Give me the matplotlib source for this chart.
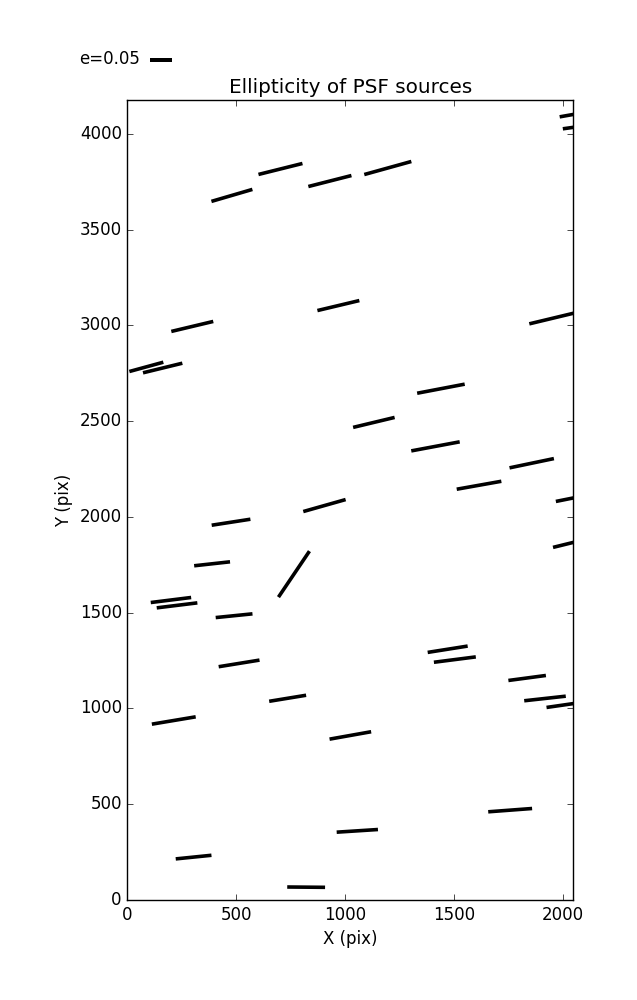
import numpy as np
import matplotlib
matplotlib.use("Agg")
import matplotlib.pyplot as plt

# PSF star positions on the CCD (pix) and their ellipticity sticks
x_pos = [480, 703, 930, 1196, 2075, 2090, 298, 969, 1954, 87, 162,
         1440, 1132, 1415, 1857, 1615, 905, 2067, 476, 2053, 389, 765,
         200, 228, 490, 1471, 1504, 513, 1836, 736, 1918, 2016, 213, 1024,
         1758, 1056, 304, 821]
y_pos = [3678, 3816, 3753, 3821, 4106, 4040, 2994, 3103, 3037, 2783, 2777,
         2669, 2493, 2368, 2280, 2165, 2059, 2103, 1972, 1868, 1755, 1701,
         1566, 1538, 1484, 1309, 1255, 1235, 1159, 1053, 1052, 1020, 937, 859,
         469, 361, 224, 67]
ellip = [0.097, 0.103, 0.101, 0.111, 0.090, 0.090, 0.098, 0.098, 0.110, 0.080,
         0.092, 0.110, 0.097, 0.112, 0.103, 0.103, 0.100, 0.100, 0.089, 0.100,
         0.082, 0.126, 0.0925, 0.093, 0.084, 0.092, 0.096, 0.094, 0.086, 0.085,
         0.095, 0.091, 0.101, 0.096, 0.100, 0.094, 0.0816, 0.086]
theta_deg = [16.3, 14.0, 14.3, 15.5, 10.0, 8.0, 13.4, 13.4, 13.5, 15.3, 13.7,
             10.8, 13.5, 10.6, 11.8, 10.1, 15.8, 11.3, 8.8, 13.8, 6.3, 56.0,
             7.1, 7.0, 5.8, 9.0, 7.3, 9.2, 7.6, 9.3, 6.3, 8.2, 9.5, 10.1,
             4.3, 3.7, 5.8, -0.5]

key_e = 0.05

plt.style.use("classic")
fig = plt.figure(figsize=(6.37, 10), dpi=100, facecolor="white")
ax = fig.add_subplot(111)
fig.subplots_adjust(left=0.2, right=0.9, bottom=0.1, top=0.9)

th = np.deg2rad(theta_deg)
e = np.asarray(ellip)
u = e * np.cos(th)
v = e * np.sin(th)

q = ax.quiver(x_pos, y_pos, u, v, pivot="middle", color="k",
              headwidth=0, headlength=0, headaxislength=0,
              units="inches", width=0.036,
              scale_units="inches", scale=1 / 4.4)
ax.quiverkey(q, 0.2355, 0.9405, key_e, "e=0.05", labelpos="W",
             coordinates="figure", fontproperties={"size": 12})

ax.set_xlim(0, 2048)
ax.set_ylim(0, 4176)
ax.set_xticks(np.arange(0, 2001, 500))
ax.set_yticks(np.arange(0, 4001, 500))
ax.set_xlabel("X (pix)")
ax.set_ylabel("Y (pix)")
ax.set_title("Ellipticity of PSF sources")

fig.savefig("out.png", dpi=100, facecolor="white")
